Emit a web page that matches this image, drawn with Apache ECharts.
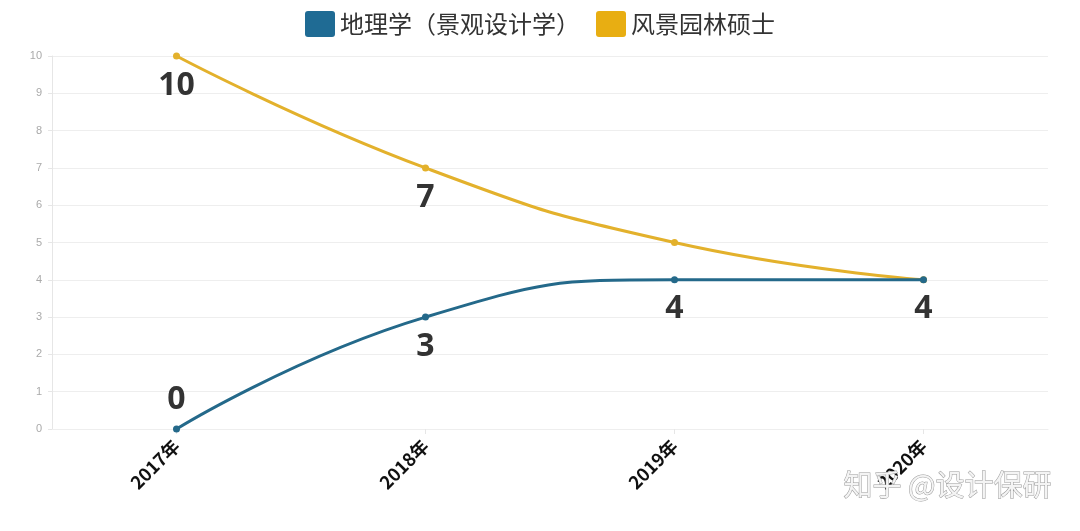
<!DOCTYPE html>
<html><head><meta charset="utf-8">
<script src="https://cdn.jsdelivr.net/npm/echarts@6/dist/echarts.min.js"></script>
<style>html,body{margin:0;padding:0;background:#fff}#c{width:1080px;height:531px}</style>
</head><body><div id="c"></div>
<script>
const categories = ['2017年', '2018年', '2019年', '2020年'];
const geoValues = [0, 3, 4, 4];
const laValues = [10, 7, 5, 4];
const geoLabelPos = ['top', 'bottom', 'bottom', 'bottom'];
const laLabelShow = [true, true, false, false];
const yTicks = [0, 1, 2, 3, 4, 5, 6, 7, 8, 9, 10];

const chart = echarts.init(document.getElementById('c'));
const bigLabel = {fontSize: 32, fontWeight: 'bold', color: '#333', fontFamily: 'Noto Sans, sans-serif', distance: 10};
const iconPath = 'path://M3,0 L27,0 Q30,0 30,3 L30,23 Q30,26 27,26 L3,26 Q0,26 0,23 L0,3 Q0,0 3,0 Z';
chart.setOption({
  animation: false,
  legend: {
    top: 6, left: 'center', itemWidth: 30, itemHeight: 26, itemGap: 16,
    icon: iconPath,
    textStyle: {fontSize: 24, color: '#333', fontFamily: 'Noto Sans CJK SC'},
    data: [
      {name: '地理学（景观设计学）', itemStyle: {color: '#1f6b94'}},
      {name: '风景园林硕士', itemStyle: {color: '#e8ae12'}}
    ]
  },
  grid: {left: 52, right: 32, top: 56, bottom: 102, containLabel: false},
  xAxis: {
    type: 'category', data: categories, boundaryGap: true,
    axisLine: {show: true, lineStyle: {color: '#eeeeee'}},
    axisTick: {show: true, alignWithLabel: true, length: 5, lineStyle: {color: '#e6e6e6'}},
    axisLabel: {rotate: 45, fontSize: 18, fontWeight: 'bold', color: '#111', fontFamily: 'Noto Sans CJK SC', margin: 14}
  },
  yAxis: {
    type: 'value', min: 0, max: 10, interval: 1,
    axisLine: {show: true, lineStyle: {color: '#e6e6e6'}},
    axisTick: {show: true, length: 4, lineStyle: {color: '#e6e6e6'}},
    axisLabel: {fontSize: 11, color: '#aaaaaa', margin: 10, formatter: v => yTicks.includes(v) ? String(v) : ''},
    splitLine: {lineStyle: {color: '#eeeeee'}}
  },
  series: [
    {
      name: '地理学（景观设计学）', type: 'line', smooth: true,
      symbol: 'circle', symbolSize: 7,
      lineStyle: {width: 3, color: '#24698a'},
      itemStyle: {color: '#24698a'},
      data: geoValues.map((v, i) => ({value: v, label: Object.assign({show: true, position: geoLabelPos[i]}, bigLabel)})),
      z: 3
    },
    {
      name: '风景园林硕士', type: 'line', smooth: true,
      symbol: 'circle', symbolSize: 7,
      lineStyle: {width: 3, color: '#e3b12c'},
      itemStyle: {color: '#e3b12c'},
      data: laValues.map((v, i) => ({value: v, label: Object.assign({show: laLabelShow[i], position: 'bottom'}, bigLabel)})),
      z: 2
    }
  ],
  graphic: [{
    type: 'text', right: 28, top: 470,
    style: {text: '知乎 @设计保研', fontSize: 29, fontFamily: 'Noto Sans CJK SC', fill: '#f4f4f4', stroke: '#9a9a9a', lineWidth: 1},
    z: 100
  }]
});
</script></body></html>
